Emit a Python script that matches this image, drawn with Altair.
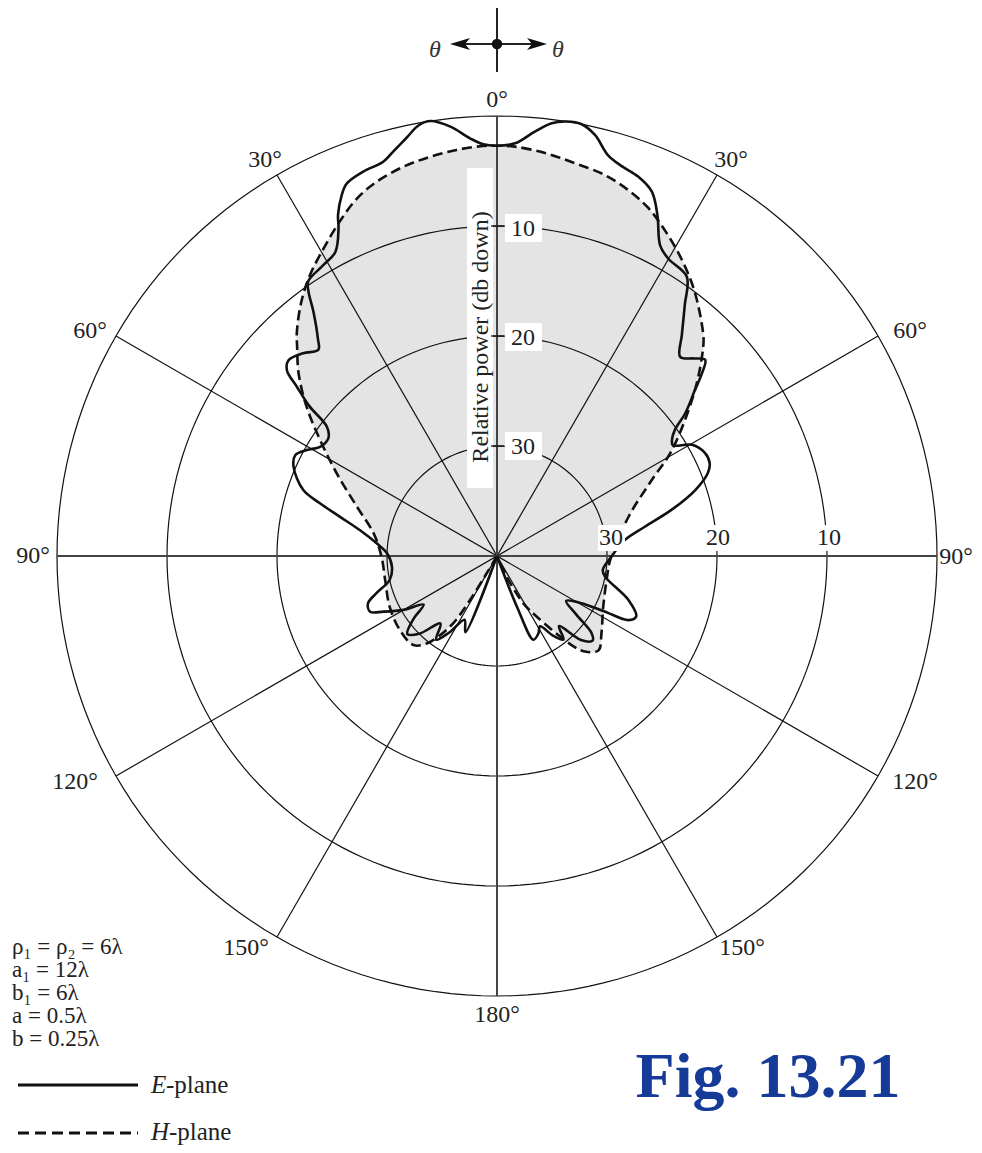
import altair as alt
import pandas as pd

# ---------------- data (angle in degrees from boresight, level in dB down) ----------------
E_ANGLE = [-180, -161, -157.5, -153, -148, -144, -140, -135, -131, -127, -123.5, -120,
           -116.1, -113.7, -110.2, -107.2, -102.6, -95.8, -88.6, -84.0, -79.3, -76.0,
           -73.4, -71.2, -66.3, -63.4, -60.9, -58.3, -55.1, -52.8, -51.4, -49.8, -48.5,
           -46.8, -43.7, -40.9, -39.5, -36.9, -35.5, -34.5, -30.8, -28.0, -25.8, -25.0,
           -23.3, -22.0, -19.2, -16.1, -14.4, -12.2, -10.3, -8.7, -6.2, -3.7, -1.9, 0,
           2.5, 5.1, 7.2, 9.1, 11.1, 13.1, 15.5, 17.8, 20.4, 23.0, 25.2, 27.7, 29.9,
           34.2, 36.8, 39.9, 42.6, 45.0, 46.7, 48.3, 50.0, 52.8, 54.7, 56.4, 57.8, 60.3,
           63.6, 66.4, 68.5, 71.6, 75.2, 78.8, 82.9, 90.3, 97.5, 100.8, 108.5, 113.5,
           116.0, 117.3, 119.2, 123, 126.5, 129.2, 131.5, 135, 138.5, 141.5, 145, 148.5,
           152, 156.5, 158.5, 160.5, 180]
E_DB = [40, 40, 32.5, 33.5, 31.8, 30.6, 32.0, 30.0, 29.2, 30.5, 32.0, 30.2,
        28.5, 27.4, 27.5, 28.5, 30.0, 30.4, 30.0, 29.0, 27.3, 25.3,
        23.2, 21.4, 19.8, 19.5, 20.2, 21.1, 21.3, 20.6, 18.2, 16.2, 14.5,
        14.0, 14.5, 15.2, 14.4, 12.2, 10.5, 9.7, 9.2, 8.7, 6.9, 5.8,
        4.3, 3.5, 3.0, 2.7, 2.05, 1.1, 0.2, 0.0, 0.74, 1.95, 2.55, 2.7,
        2.45, 1.27, 0.35, 0.0, 0.0, 0.7, 2.2, 2.8, 3.2, 4.0, 5.75, 8.1, 8.8,
        9.3, 11.5, 13.8, 15.4, 14.6, 14.0, 15.05, 16.5, 18.5, 20.2, 20.9, 21.1, 19.6,
        18.9, 18.9, 19.4, 21.0, 23.6, 26.3, 28.3, 29.6, 30.3, 30.0, 27.4, 26.2,
        26.7, 29.0, 31.2, 32.5, 31.0, 28.9, 28.4, 29.2, 31.5, 30.3, 31.2, 32.5,
        32.0, 31.7, 35, 40, 40]

H_ANGLE = [-180, -152, -149.2, -148.5, -146.4, -141.2, -136.8, -127.3, -115.4, -102.1,
           -90.3, -79.6, -70.6, -62.7, -56.8, -51.9, -47.4, -43.7, -41.8, -37.5, -33.6,
           -29.4, -25.2, -21.4, -17.8, -13.5, -9.5, -5.7, -1.9, 0, 2.5, 6.8, 11.2, 15.8,
           19.7, 23.5, 27.3, 31.8, 36.8, 43.0, 44.6, 50.0, 58.8, 63.8, 73.3, 92, 102.3,
           115.5, 126.4, 132.9, 137.4, 140, 146.8, 150.9, 154.9, 157, 180]
H_DB = [40, 40, 38.2, 35.3, 32.3, 29.8, 28.9, 28.9, 29.2, 29.6,
        29.5, 28.6, 26.5, 23.6, 20.8, 18.0, 15.5, 13.7, 12.7, 10.8, 9.3,
        7.9, 6.4, 5.1, 4.25, 3.6, 3.2, 2.9, 2.7, 2.7, 2.75, 3.1, 3.6, 4.0,
        4.65, 5.5, 6.7, 8.2, 10.0, 12.5, 13.3, 16.5, 21.4, 24.3, 27.5, 29.7, 29.8,
        29.3, 28.2, 27.4, 28.2, 29.4, 33.4, 35.1, 37.9, 40, 40]

RING_DB = [0, 10, 20, 30]
SPOKE_ANGLE = [0, 30, 60, 90, 120, 150]
ANGLE_LABELS = ["0°", "30°", "30°", "60°", "60°", "90°", "90°", "120°", "120°", "150°", "150°", "180°"]
VTICK_LABELS = ["10", "20", "30"]
HTICK_LABELS = ["30", "20", "10"]
PARAM_LINES = ["ρ₁ = ρ₂ = 6λ", "a₁ = 12λ", "b₁ = 6λ", "a = 0.5λ", "b = 0.25λ"]
FIG_TITLE = "Fig. 13.21"

# ---------------- layout ----------------
CX, CY, S = 497, 556, 11.0
W, H = 966, 1137
SERIF = "Liberation Serif"


def dx(px):
    return (px - CX) / S


def dy(py):
    return (CY - py) / S


XS = alt.Scale(domain=[dx(8), dx(8 + W)], nice=False, zero=False)
YS = alt.Scale(domain=[dy(8 + H), dy(8)], nice=False, zero=False)


def X(f="x"):
    return alt.X(f"{f}:Q", scale=XS, axis=None)


def Y(f="y"):
    return alt.Y(f"{f}:Q", scale=YS, axis=None)


def polar(chart):
    return chart.transform_calculate(
        r="max(0, 40 - datum.db)"
    ).transform_calculate(
        x="datum.r * sin(datum.angle * PI / 180)",
        y="datum.r * cos(datum.angle * PI / 180)",
    )


e_df = pd.DataFrame({"angle": E_ANGLE, "db": E_DB, "idx": range(len(E_ANGLE))})
h_df = pd.DataFrame({"angle": H_ANGLE, "db": H_DB, "idx": range(len(H_ANGLE))})

# gray fill inside the H-plane pattern
fill = polar(alt.Chart(h_df)).mark_line(
    interpolate="catmull-rom", fill="#e4e4e4", stroke="#e4e4e4", strokeWidth=0.5
).encode(x=X(), y=Y(), order=alt.Order("idx:Q"))

# rings
ring_rows = [{"ring": d, "t": t, "i": i} for d in RING_DB for i, t in enumerate(range(0, 362, 2))]
rings = alt.Chart(pd.DataFrame(ring_rows)).transform_calculate(
    x="(40 - datum.ring) * sin(datum.t * PI / 180)",
    y="(40 - datum.ring) * cos(datum.t * PI / 180)",
).mark_line(stroke="#111", strokeWidth=1.2).encode(
    x=X(), y=Y(), detail="ring:N", order=alt.Order("i:Q"))

# spokes (diameters)
spokes = alt.Chart(pd.DataFrame({"angle": SPOKE_ANGLE})).transform_calculate(
    x="40 * sin(datum.angle * PI / 180)",
    y="40 * cos(datum.angle * PI / 180)",
    x2="-40 * sin(datum.angle * PI / 180)",
    y2="-40 * cos(datum.angle * PI / 180)",
).mark_rule(stroke="#111", strokeWidth=1.2).encode(
    x=X(), y=Y(), x2="x2:Q", y2="y2:Q")

axes_main = alt.Chart(pd.DataFrame({"angle": [0, 90]})).transform_calculate(
    x="40 * sin(datum.angle * PI / 180)",
    y="40 * cos(datum.angle * PI / 180)",
    x2="-40 * sin(datum.angle * PI / 180)",
    y2="-40 * cos(datum.angle * PI / 180)",
).mark_rule(stroke="#444", strokeWidth=2).encode(
    x=X(), y=Y(), x2="x2:Q", y2="y2:Q")

# white label boxes
boxes_px = [(467, 493, 168, 488), (505, 542, 214, 242), (505, 542, 323, 351),
            (505, 542, 432, 460), (598, 625, 525, 551), (703, 733, 525, 551),
            (813, 843, 525, 551)]
box_df = pd.DataFrame([{"x": dx(a), "x2": dx(b), "y": dy(c), "y2": dy(d)} for a, b, c, d in boxes_px])
boxes = alt.Chart(box_df).mark_rect(fill="white").encode(x=X(), x2="x2:Q", y=Y(), y2="y2:Q")

# small ticks on the vertical axis
vticks = alt.Chart(pd.DataFrame({"ring": RING_DB[1:]})).transform_calculate(
    y="40 - datum.ring", xa=str(dx(491)), xb=str(dx(504))
).mark_rule(stroke="#111", strokeWidth=1.3).encode(x=X("xa"), x2="xb:Q", y=Y())

# curves
e_line = polar(alt.Chart(e_df)).mark_line(
    stroke="#111", strokeWidth=2.6, strokeJoin="round", interpolate="catmull-rom").encode(
    x=X(), y=Y(), order=alt.Order("idx:Q"))
h_line = polar(alt.Chart(h_df)).mark_line(
    stroke="#111", strokeWidth=2.6, strokeDash=[10, 5], interpolate="catmull-rom").encode(
    x=X(), y=Y(), order=alt.Order("idx:Q"))


def text_layer(rows, **kw):
    df = pd.DataFrame([{"label": t, "x": dx(px), "y": dy(py)} for t, px, py in rows])
    return alt.Chart(df).mark_text(**kw).encode(x=X(), y=Y(), text="label:N")


ang_pos = [(497, 100), (265, 160), (731, 160), (90, 331), (910, 331), (33, 556), (956, 557),
           (75, 782), (915, 782), (246, 948), (742, 948), (497, 1015)]
ang_text = text_layer([(l, p[0], p[1]) for l, p in zip(ANGLE_LABELS, ang_pos)],
                      font=SERIF, fontSize=24, color="#222", align="center", baseline="middle")

vt_text = text_layer([(l, 523, py) for l, py in zip(VTICK_LABELS, [229, 338, 447])],
                     font=SERIF, fontSize=24, color="#222", align="center", baseline="middle")
ht_text = text_layer([(l, px, 538) for l, px in zip(HTICK_LABELS, [611, 718, 829])],
                     font=SERIF, fontSize=24, color="#222", align="center", baseline="middle")

ylabel = text_layer([("Relative power (db down)", 481, 337)], font=SERIF, fontSize=24,
                    color="#222", align="center", baseline="middle", angle=270)

params = text_layer([(l, 12, by) for l, by in zip(PARAM_LINES, [954, 977, 1000, 1023, 1046])],
                    font=SERIF, fontSize=23, color="#222", align="left", baseline="alphabetic")

fig_text = text_layer([(FIG_TITLE, 768, 1078)], font=SERIF, fontSize=64, fontWeight="bold",
                      color="#163a97", align="center", baseline="middle")

leg_italic = text_layer([("E", 151, 1093), ("H", 151, 1140)], font=SERIF, fontSize=25,
                        fontStyle="italic", color="#222", align="left", baseline="alphabetic")
leg_plain = text_layer([("-plane", 166, 1093), ("-plane", 169, 1140)], font=SERIF, fontSize=25,
                       color="#222", align="left", baseline="alphabetic")

leg_e = alt.Chart(pd.DataFrame({"x": [dx(18)], "x2": [dx(138)], "y": [dy(1085)]})).mark_rule(
    stroke="#111", strokeWidth=3).encode(x=X(), x2="x2:Q", y=Y())
leg_h = alt.Chart(pd.DataFrame({"x": [dx(18)], "x2": [dx(138)], "y": [dy(1133)]})).mark_rule(
    stroke="#111", strokeWidth=3, strokeDash=[11, 6]).encode(x=X(), x2="x2:Q", y=Y())

# theta indicator at the top
ind_v = alt.Chart(pd.DataFrame({"x": [0.0], "y": [dy(7)], "y2": [dy(72)]})).mark_rule(
    stroke="#222", strokeWidth=2).encode(x=X(), y=Y(), y2="y2:Q")
ind_h = alt.Chart(pd.DataFrame({"x": [dx(455)], "x2": [dx(542)], "y": [dy(44)]})).mark_rule(
    stroke="#222", strokeWidth=2).encode(x=X(), x2="x2:Q", y=Y())
ind_dot = alt.Chart(pd.DataFrame({"x": [0.0], "y": [dy(44)]})).mark_point(
    shape="circle", filled=True, fill="#111", size=110, opacity=1).encode(x=X(), y=Y())
arr_l = alt.Chart(pd.DataFrame({"x": [dx(460)], "y": [dy(44)]})).mark_point(
    shape="M -1 0 L 1 -0.6 L 0.5 0 L 1 0.6 Z", filled=True, fill="#111", size=400, opacity=1
).encode(x=X(), y=Y())
arr_r = alt.Chart(pd.DataFrame({"x": [dx(537)], "y": [dy(44)]})).mark_point(
    shape="M 1 0 L -1 -0.6 L -0.5 0 L -1 0.6 Z", filled=True, fill="#111", size=400, opacity=1
).encode(x=X(), y=Y())
theta_text = text_layer([("θ", 435, 50), ("θ", 558, 50)], font=SERIF, fontSize=24,
                        fontStyle="italic", color="#333", align="center", baseline="middle")

chart = alt.layer(
    fill, rings, spokes, axes_main, e_line, h_line, boxes, vticks,
    ang_text, vt_text, ht_text, ylabel, params, fig_text, leg_italic, leg_plain,
    leg_e, leg_h, ind_v, ind_h, ind_dot, arr_l, arr_r, theta_text,
).properties(
    width=W, height=H, padding=0, autosize=alt.AutoSizeParams(type="none"), background="white"
).configure_view(stroke=None)

chart.save("out.html", embed_options={"renderer": "svg", "actions": False})
